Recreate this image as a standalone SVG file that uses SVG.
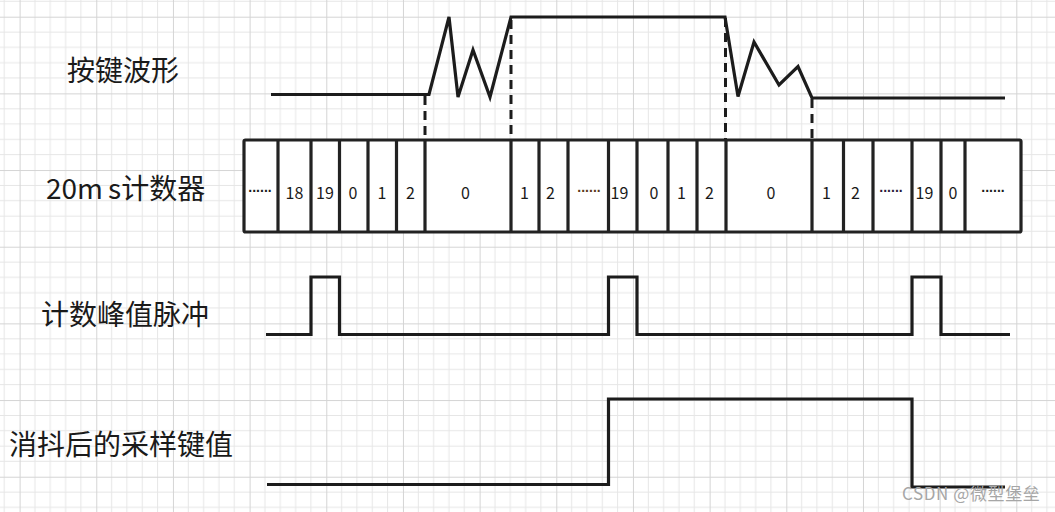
<svg xmlns="http://www.w3.org/2000/svg" width="1055" height="512" viewBox="0 0 1055 512">
  <style>
    .wave { fill: none; stroke: #1c1c1c; stroke-width: 3.2; stroke-linejoin: miter; stroke-linecap: butt; }
    .dash { fill: none; stroke: #1c1c1c; stroke-width: 3; stroke-dasharray: 9 6; }
    .cell { fill: none; stroke: #222; stroke-width: 3.2; }
    .lbl { font-family: "Noto Sans CJK SC", "Noto Sans", sans-serif; font-size: 28px; fill: #1a1a1a; }
    .num { font-family: "Noto Sans CJK SC", "Noto Sans", sans-serif; font-size: 16px; fill: #1a1a1a; text-anchor: middle; }
    .dots { font-family: "Liberation Sans", sans-serif; font-size: 14px; font-weight: bold; fill: #1a1a1a; text-anchor: middle; }
    .wm { font-family: "Noto Sans CJK SC", "Noto Sans", sans-serif; font-size: 17px; fill: #a6a6a6; letter-spacing: 0.6px; }
  </style>
  <defs>
    <pattern id="grid" patternUnits="userSpaceOnUse" x="19.6" y="16.7" width="76.67" height="76.67">
      <g stroke="#e6e6e6" stroke-width="1">
        <line x1="15.33" y1="0" x2="15.33" y2="76.67"/>
        <line x1="30.67" y1="0" x2="30.67" y2="76.67"/>
        <line x1="46" y1="0" x2="46" y2="76.67"/>
        <line x1="61.33" y1="0" x2="61.33" y2="76.67"/>
        <line x1="0" y1="15.33" x2="76.67" y2="15.33"/>
        <line x1="0" y1="30.67" x2="76.67" y2="30.67"/>
        <line x1="0" y1="46" x2="76.67" y2="46"/>
        <line x1="0" y1="61.33" x2="76.67" y2="61.33"/>
      </g>
      <g stroke="#d4d4d4" stroke-width="1">
        <line x1="0.5" y1="0" x2="0.5" y2="76.67"/>
        <line x1="0" y1="0.5" x2="76.67" y2="0.5"/>
      </g>
    </pattern>
  </defs>

  <rect width="1055" height="512" fill="#ffffff"/>
  <rect width="1055" height="512" fill="url(#grid)"/>

  <g id="label-key"><text class="lbl" x="67" y="81">按键波形</text></g>
  <g id="label-counter"><text class="lbl" x="46" y="199">20m<tspan dx="5">s</tspan>计数器</text></g>
  <g id="label-pulse"><text class="lbl" x="41" y="325">计数峰值脉冲</text></g>
  <g id="label-debounce"><text class="lbl" x="9" y="455">消抖后的采样键值</text></g>

  <g id="wave-key">
    <polyline class="wave" points="271,94.5 429,94.5 449,17 458,97 473,50 490,97 511,17 725,17 738,96.5 754,42 779,85 798,66.5 812,98 1005,98"/>
  </g>

  <g id="connectors">
    <line class="dash" x1="425" y1="96" x2="425" y2="140"/>
    <line class="dash" x1="511" y1="20" x2="511" y2="140"/>
    <line class="dash" x1="725.5" y1="18" x2="725.5" y2="140"/>
    <line class="dash" x1="812" y1="99" x2="812" y2="140"/>
  </g>

  <g id="counter">
    <rect x="244" y="140" width="777" height="92" rx="1.5" fill="#ffffff" stroke="#222" stroke-width="3.2"/>
    <path class="cell" d="M278 140V232 M311 140V232 M339.5 140V232 M368 140V232 M396.5 140V232 M425 140V232 M511 140V232 M539 140V232 M568 140V232 M608.5 140V232 M637 140V232 M668 140V232 M697 140V232 M726 140V232 M812 140V232 M843.5 140V232 M873 140V232 M912 140V232 M941 140V232 M965 140V232"/>
    <text class="dots" x="260" y="192">......</text>
    <text class="num" x="294.5" y="199">18</text>
    <text class="num" x="325" y="199">19</text>
    <text class="num" x="353" y="199">0</text>
    <text class="num" x="382" y="199">1</text>
    <text class="num" x="410.5" y="199">2</text>
    <text class="num" x="465.5" y="199">0</text>
    <text class="num" x="524.5" y="199">1</text>
    <text class="num" x="550.5" y="199">2</text>
    <text class="dots" x="589" y="192" style="fill:#5a3a1a">......</text>
    <text class="num" x="619.5" y="199">19</text>
    <text class="num" x="654" y="199">0</text>
    <text class="num" x="681.5" y="199">1</text>
    <text class="num" x="709.5" y="199">2</text>
    <text class="num" x="771" y="199">0</text>
    <text class="num" x="826.5" y="199">1</text>
    <text class="num" x="855.5" y="199">2</text>
    <text class="dots" x="891" y="192" style="fill:#2a1a3a">......</text>
    <text class="num" x="924.5" y="199">19</text>
    <text class="num" x="953" y="199">0</text>
    <text class="dots" x="993" y="192">......</text>
  </g>

  <g id="wave-pulse">
    <polyline class="wave" points="266,334.5 311,334.5 311,277 339.5,277 339.5,334.5 608.5,334.5 608.5,277 637,277 637,334.5 912,334.5 912,277 941,277 941,334.5 1010,334.5"/>
  </g>

  <g id="wave-debounce">
    <polyline class="wave" points="267,484.5 608.5,484.5 608.5,399 912,399 912,487 1005,487"/>
  </g>

  <g id="watermark"><text class="wm" x="902" y="500">CSDN @微型堡垒</text></g>
</svg>
